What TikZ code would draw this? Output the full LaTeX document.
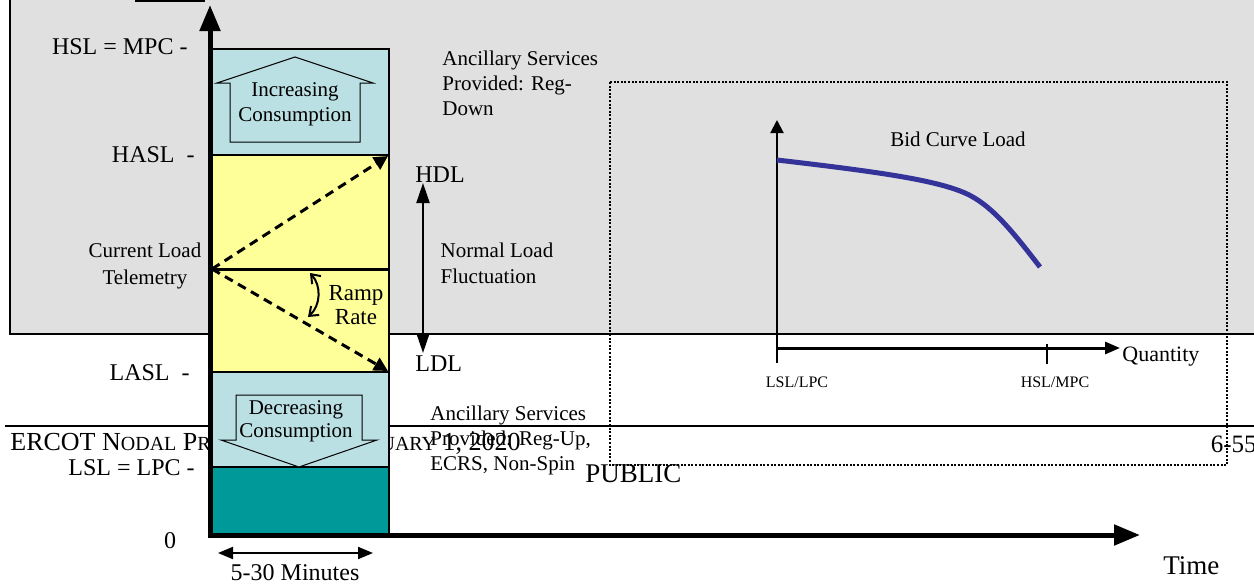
\documentclass[tikz,border=0pt]{standalone}
\usepackage{fontspec}
\setmainfont{Liberation Serif}
\usetikzlibrary{arrows.meta}
\definecolor{slidegrey}{HTML}{E0E0E0}
\definecolor{bandblue}{HTML}{BBE0E3}
\definecolor{bandyellow}{HTML}{FFFF99}
\definecolor{bandteal}{HTML}{009999}
\definecolor{curveblue}{HTML}{333399}
\newcommand{\smallcap}[1]{{\fontsize{10}{12}\selectfont #1}}
\tikzset{
  lvl/.style={font=\fontsize{12}{14}\selectfont, inner sep=0pt},
  note/.style={font=\fontsize{10.5}{12.5}\selectfont, inner sep=0pt, align=left},
  bandtxt/.style={font=\fontsize{10.5}{12.5}\selectfont, inner sep=0pt, align=center},
  tiny/.style={font=\fontsize{8}{10}\selectfont, inner sep=0pt},
  axis/.style={line width=2.5pt, -{Triangle[width=10pt,length=13pt]}},
  rampline/.style={line width=1.5pt, dash pattern=on 4.5pt off 3pt, -{Triangle[width=7pt,length=7pt]}},
  band/.style={line width=0.6pt},
  blockarrow/.style={line width=0.5pt, fill=bandblue}
}
\begin{document}
\begin{tikzpicture}[x=0.5pt,y=-0.5pt]
\useasboundingbox (0,0) rectangle (1254,584);

\draw[line width=0.9pt, fill=slidegrey] (10,-10) rectangle (1270,334);
\draw[line width=0.75pt] (135,1) -- (205,1);
\draw[line width=1pt] (5,426) -- (1260,426);
\node[anchor=base west, inner sep=0pt, font=\fontsize{13}{15}\selectfont] (footer) at (10,450)
  {ERCOT N\smallcap{ODAL} P\smallcap{ROTOCOLS} --- J\smallcap{ANUARY} 1, 2020};
\node[anchor=base east, inner sep=0pt, font=\fontsize{12.5}{15}\selectfont] (pagenum) at (1257,452) {6-55};
\node[anchor=base west, inner sep=0pt, font=\fontsize{13.5}{16}\selectfont] (public) at (585,482) {PUBLIC};

\fill[bandblue] (210,49) rectangle (389,155);
\fill[bandyellow] (210,155) rectangle (389,372);
\fill[bandblue] (210,372) rectangle (389,467);
\fill[bandteal] (210,467) rectangle (389,535);
\draw[band] (210,49) rectangle (389,535);
\draw[band] (210,155) -- (389,155);
\draw[band] (210,372) -- (389,372);
\draw[band] (210,467) -- (389,467);

\draw[blockarrow] (230,142) -- (230,83) -- (217,83) -- (295,57) -- (373,83) -- (360,83) -- (360,142) -- cycle;
\draw[blockarrow] (236,395) -- (362,395) -- (362,440) -- (377,440) -- (299,467) -- (221,440) -- (236,440) -- cycle;
\node[bandtxt] (inc) at (295,104) {Increasing\\Consumption};
\node[bandtxt, font=\fontsize{10.5}{11.5}\selectfont] (dec) at (296,421) {Decreasing\\Consumption};

\draw[line width=1.5pt] (210,269) -- (389,269);
\coordinate (cl) at (212,269);
\coordinate (hdlpt) at (388,156);
\coordinate (ldlpt) at (388,371);
\draw[rampline] (cl) -- (hdlpt);
\draw[rampline] (cl) -- (ldlpt);
\coordinate (rrtop) at (310,273);
\coordinate (rrbot) at (308,317);
\draw[line width=1pt, {Straight Barb[length=4pt,width=6pt]}-{Straight Barb[length=4pt,width=6pt]}] (rrtop) to[bend left=45] (rrbot);
\node[bandtxt, font=\fontsize{11.5}{12}\selectfont] (ramp) at (356,305) {Ramp\\Rate};

\coordinate (origin) at (210,535);
\coordinate (ytop) at (210,5);
\coordinate (xend) at (1140,535);
\draw[axis] ([yshift=-1.25pt]origin) -- (ytop);
\draw[axis] ([xshift=-1.25pt]origin) -- (xend);

\node[lvl, anchor=east] (hsl) at (188,47) {HSL = MPC -};
\node[lvl, anchor=east] (hasl) at (195,155) {HASL\ \ -};
\node[lvl, anchor=east] (lasl) at (190,373) {LASL\ \ -};
\node[lvl, anchor=east] (lsl) at (195,468) {LSL = LPC -};
\node[lvl] (zero) at (170,541) {0};
\node[lvl, anchor=west, font=\fontsize{13.5}{16}\selectfont] (time) at (1163,566) {Time};
\node[bandtxt, font=\fontsize{10.5}{13.5}\selectfont] (curload) at (145,266) {Current Load\\Telemetry};

\coordinate (minl) at (218,553);
\coordinate (minr) at (373,553);
\draw[line width=1pt, {Triangle[width=6pt,length=7.5pt]}-{Triangle[width=6pt,length=7.5pt]}] (minl) -- (minr);
\node[lvl] (minutes) at (295,573) {5-30 Minutes};

\node[lvl, anchor=west] (hdl) at (415,175) {HDL};
\node[lvl, anchor=west] (ldl) at (415,364) {LDL};
\coordinate (hdltip) at (423,183);
\coordinate (ldltip) at (423,353);
\draw[line width=1pt, {Triangle[width=6.5pt,length=10pt]}-{Triangle[width=6.5pt,length=10pt]}] (ldltip) -- (hdltip);
\node[note, font=\fontsize{10.5}{13}\selectfont] (normal) at (497,263) {Normal Load\\Fluctuation};
\node[note, anchor=west] (asdown) at (442,83) {Ancillary Services\\Provided: Reg-\\Down};
\node[note, anchor=west] (asup) at (430,440) {Ancillary Services\\Provided: Reg-Up,\\ECRS, Non-Spin};

\draw[line width=1.2pt, dash pattern=on 1pt off 0.8pt] (610,82) rectangle (1227,465);
\coordinate (qo) at (777,348);
\draw[line width=1pt, -{Triangle[width=6.5pt,length=6.5pt]}] (777,363) -- (777,120);
\draw[line width=1.5pt, -{Triangle[width=6pt,length=7.5pt]}] (qo) -- (1120,348);
\draw[line width=0.75pt] (1047,344) -- (1047,364);
\node[tiny] (lsllpc) at (797,382) {LSL/LPC};
\node[tiny] (hslmpc) at (1055,382) {HSL/MPC};
\node[lvl, anchor=west, font=\fontsize{11}{13}\selectfont] (quantity) at (1122,357) {Quantity};
\node[note] (bidcurve) at (958,139) {Bid Curve Load};
\draw[curveblue, line width=2.5pt] (777,160) .. controls (880,172) and (935,180) .. (965,193)
  .. controls (990,204) and (1010,228) .. (1040,267);
\end{tikzpicture}
\end{document}
